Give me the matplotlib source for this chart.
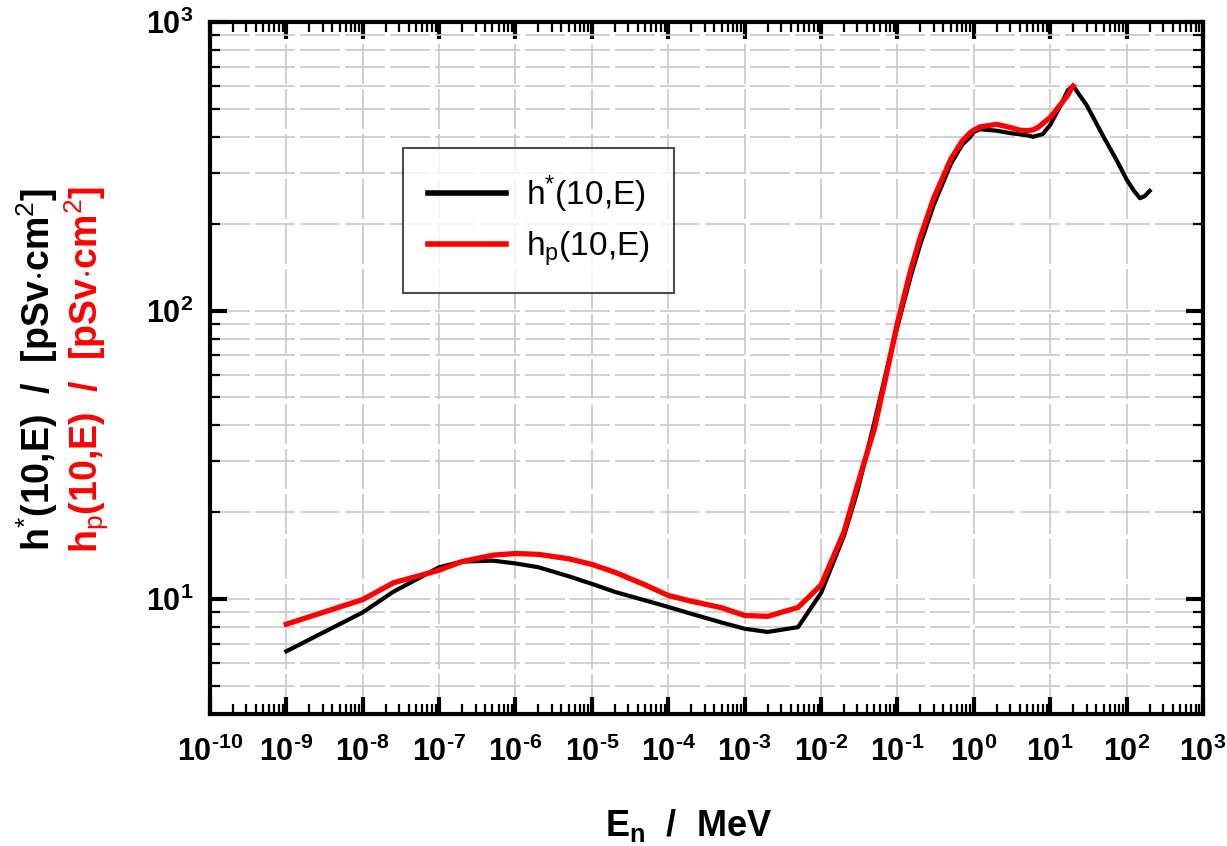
import numpy as np
import matplotlib
matplotlib.use("Agg")
import matplotlib.pyplot as plt
from matplotlib.ticker import LogLocator, FixedLocator, NullFormatter

plt.rcParams['font.family'] = ['Liberation Sans', 'DejaVu Sans']
plt.rcParams['mathtext.fontset'] = 'custom'
plt.rcParams['mathtext.rm'] = 'Liberation Sans'
plt.rcParams['mathtext.it'] = 'Liberation Sans'
plt.rcParams['mathtext.bf'] = 'Liberation Sans:bold'

# h*(10,E) ambient dose equivalent per fluence (pSv cm^2)
e_amb = [1e-9, 1e-8, 2.5e-8, 1e-7, 2e-7, 5e-7, 1e-6, 2e-6, 5e-6, 1e-5, 2e-5,
         5e-5, 1e-4, 2e-4, 5e-4, 1e-3, 2e-3, 5e-3, 1e-2, 2e-2, 3e-2, 5e-2,
         7e-2, 1e-1, 1.5e-1, 2e-1, 3e-1, 5e-1, 7e-1, 0.9, 1.0, 1.2, 2.0, 3.0,
         4.0, 5.0, 6.0, 7.0, 8.0, 10.0, 14.0, 17.0, 20.0, 30.0, 50.0, 75.0,
         100.0, 125.0, 150.0, 175.0, 201.0]
h_amb = [6.60, 9.00, 10.6, 12.9, 13.5, 13.6, 13.3, 12.9, 12.0, 11.3, 10.6,
         9.90, 9.40, 8.90, 8.30, 7.90, 7.70, 8.00, 10.5, 16.6, 23.7, 41.1,
         60.0, 88.0, 132, 170, 233, 322, 375, 400, 416, 425, 420, 412,
         408, 405, 400, 405, 409, 440, 520, 580, 600, 515, 400, 330,
         285, 260, 245, 250, 260]

# hp(10,E) personal dose equivalent per fluence (pSv cm^2)
e_pers = [1e-9, 1e-8, 2.53e-8, 1e-7, 2e-7, 5e-7, 1e-6, 2e-6, 5e-6, 1e-5,
          2e-5, 5e-5, 1e-4, 2e-4, 5e-4, 1e-3, 2e-3, 5e-3, 1e-2, 2e-2, 3e-2,
          5e-2, 7.07e-2, 1e-1, 1.5e-1, 2e-1, 3e-1, 5e-1, 7e-1, 0.9, 1.0, 1.2,
          2.0, 3.0, 4.0, 5.0, 6.0, 7.0, 8.0, 10.0, 14.0, 17.0, 19.0, 20.0]
h_pers = [8.19, 9.97, 11.4, 12.6, 13.5, 14.2, 14.4, 14.3, 13.8, 13.2,
          12.4, 11.2, 10.3, 9.84, 9.34, 8.78, 8.72, 9.36, 11.2, 17.1, 24.9,
          39.0, 59.0, 90.6, 139, 180, 246, 335, 386, 414, 422, 433,
          442, 431, 422, 420, 423, 432, 445, 467, 522, 558, 590, 600]

x_decades = list(range(-10, 4))
y_decades = [1, 2, 3]


def decade_label(d):
    # short hyphen as in the original, not a long minus sign
    exp = str(d).replace('-', '\u2010')
    return r'$\mathbf{10^{%s}}$' % exp


fig = plt.figure(figsize=(12.27, 8.46), dpi=100)
ax = fig.add_axes([0.1711, 0.156, 0.9804 - 0.1711, 0.974 - 0.156])

ax.plot(e_amb, h_amb, color='black', lw=3.0, label=r'h$^{*}$(10,E)', zorder=3)
ax.plot(e_pers, h_pers, color='#ff0000', lw=3.8, label=r'h$_{\mathrm{p}}$(10,E)', zorder=4)

ax.set_xscale('log')
ax.set_yscale('log')
ax.set_xlim(1e-10, 1e3)
ax.set_ylim(4.0, 1000)

ax.xaxis.set_major_locator(FixedLocator([10.0 ** d for d in x_decades]))
ax.set_xticklabels([decade_label(d) for d in x_decades])
ax.xaxis.set_minor_locator(LogLocator(base=10, subs=np.arange(2, 10), numticks=30))
ax.xaxis.set_minor_formatter(NullFormatter())

ax.yaxis.set_major_locator(FixedLocator([10.0 ** d for d in y_decades]))
ax.set_yticklabels([decade_label(d) for d in y_decades])
ax.yaxis.set_minor_locator(LogLocator(base=10, subs=np.arange(2, 10), numticks=30))
ax.yaxis.set_minor_formatter(NullFormatter())

ax.tick_params(which='major', direction='in', length=12, width=3,
               top=True, right=True, labelsize=22)
ax.tick_params(axis='x', which='major', pad=16)
ax.tick_params(axis='y', which='major', pad=12)
ax.tick_params(which='minor', direction='in', length=7, width=1.6,
               top=True, right=True)

ax.grid(True, which='major', axis='both', color='#c8c8c8', lw=1.2,
        linestyle=(0, (24, 3)))
ax.grid(True, which='minor', axis='y', color='#c8c8c8', lw=1.2,
        linestyle=(0, (24, 3)))
ax.set_axisbelow(True)

for sp in ax.spines.values():
    sp.set_linewidth(3)

fig.text(0.561, 0.0118, r'$\mathbf{E_{n}}$  /  MeV', fontsize=26,
         fontweight='bold', ha='center', va='baseline')

fig.text(0.030, 0.563, r'h$^{*}$(10,E)  /  [pSv$\cdot$cm$^{2}$]', rotation=90,
         fontsize=27, fontweight='bold', color='black', ha='center', va='center')
fig.text(0.071, 0.563, r'h$_{\mathrm{p}}$(10,E)  /  [pSv$\cdot$cm$^{2}$]', rotation=90,
         fontsize=27, fontweight='bold', color='#ff0000', ha='center', va='center')

leg = ax.legend(loc='upper left', bbox_to_anchor=(0.1944, 0.8177),
                borderaxespad=0, fontsize=24,
                frameon=True, fancybox=False, edgecolor='#222222',
                handlelength=2.33, borderpad=0.75, labelspacing=0.45,
                handletextpad=0.6)
leg.get_frame().set_linewidth(1.5)
for ln in leg.get_lines():
    ln.set_linewidth(4)

fig.savefig('out.png', dpi=100)
